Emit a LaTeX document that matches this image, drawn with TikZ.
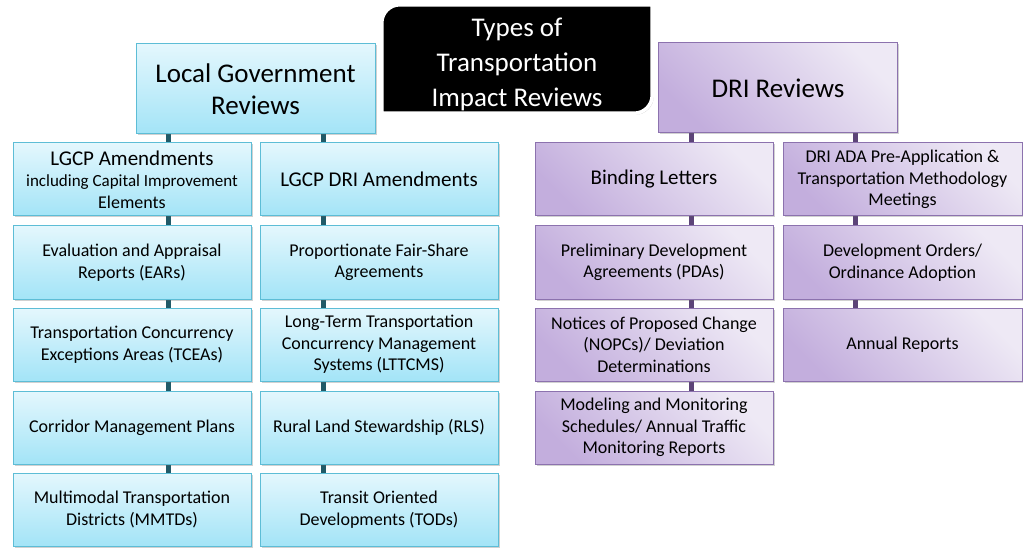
\documentclass[tikz,border=0pt]{standalone}
\usepackage{fontspec}
\setmainfont{Carlito}
\usetikzlibrary{shadows,backgrounds}
\definecolor{lgtop}{HTML}{E4F7FD}
\definecolor{lgbot}{HTML}{A3E4F7}
\definecolor{lgedge}{HTML}{5DBDD6}
\definecolor{lgline}{HTML}{215A68}
\definecolor{drilight}{HTML}{EEE9F5}
\definecolor{dridark}{HTML}{C3AEDD}
\definecolor{driedge}{HTML}{8C72AE}
\definecolor{driline}{HTML}{5C4478}
\tikzset{
    box/.style={line width=1pt, minimum width=238pt, minimum height=73pt, inner sep=0pt,
        align=center, font=\fontsize{18}{21.5}\selectfont,
        drop shadow={shadow xshift=1.5pt, shadow yshift=-1.5pt, opacity=0.3, fill=black!60}},
    lgbox/.style={box, draw=lgedge, top color=lgtop, bottom color=lgbot},
    dribox/.style={box, draw=driedge, top color=drilight, bottom color=dridark, shading angle=-45},
    headbox/.style={minimum width=239pt, minimum height=90pt, font=\fontsize{27}{32}\selectfont},
    lgconn/.style={draw=lgline, line width=5pt},
    driconn/.style={draw=driline, line width=5pt}
}
\begin{document}
\begin{tikzpicture}[x=1pt,y=-1pt]
    \useasboundingbox (0,0) rectangle (1023,548);
    \node[text=white, minimum width=270pt, minimum height=108pt, align=center,
          font=\fontsize{27}{35}\selectfont] (title) at (517,64)
          {Types of\\Transportation\\Impact Reviews};
    \node[lgbox, headbox] (lgr) at (255.5,89) {Local Government\\Reviews};
    \node[dribox, headbox] (dri) at (778,88) {DRI Reviews};

    \node[lgbox] (la1) at (132,179.5) {\fontsize{21}{24}\selectfont LGCP Amendments\\
        \fontsize{17}{19.5}\selectfont including Capital Improvement\\Elements};
    \node[lgbox] (la2) at (132,262.5) {Evaluation and Appraisal\\Reports (EARs)};
    \node[lgbox] (la3) at (132,344.5) {Transportation Concurrency\\Exceptions Areas (TCEAs)};
    \node[lgbox] (la4) at (132,427.5) {Corridor Management Plans};
    \node[lgbox] (la5) at (132,509.5) {Multimodal Transportation\\Districts (MMTDs)};

    \node[lgbox] (lb1) at (379,179.5) {\fontsize{21}{24}\selectfont LGCP DRI Amendments};
    \node[lgbox] (lb2) at (379,262.5) {Proportionate Fair-Share\\Agreements};
    \node[lgbox] (lb3) at (379,344.5) {Long-Term Transportation\\Concurrency Management\\Systems (LTTCMS)};
    \node[lgbox] (lb4) at (379,427.5) {Rural Land Stewardship (RLS)};
    \node[lgbox] (lb5) at (379,509.5) {Transit Oriented\\Developments (TODs)};

    \node[dribox] (ra1) at (654,179.5) {\fontsize{21}{24}\selectfont Binding Letters};
    \node[dribox] (ra2) at (654,262.5) {Preliminary Development\\Agreements (PDAs)};
    \node[dribox] (ra3) at (654,344.5) {Notices of Proposed Change\\(NOPCs)/ Deviation\\Determinations};
    \node[dribox] (ra4) at (654,427.5) {Modeling and Monitoring\\Schedules/ Annual Traffic\\Monitoring Reports};

    \node[dribox, minimum width=239pt] (rb1) at (902.5,179.5) {DRI ADA Pre-Application \&\\Transportation Methodology\\Meetings};
    \node[dribox, minimum width=239pt] (rb2) at (902.5,262.5) {Development Orders/\\Ordinance Adoption};
    \node[dribox, minimum width=239pt] (rb3) at (902.5,344.5) {Annual Reports};

    \coordinate (lca) at (168,0);
    \coordinate (lcb) at (323,0);
    \coordinate (rca) at (691,0);
    \coordinate (rcb) at (855,0);
    \begin{scope}[on background layer]
        \path[fill=black, draw=white, line width=3.5pt,
              drop shadow={shadow xshift=1.5pt, shadow yshift=-1.5pt, opacity=0.35, fill=black!50}]
            ([yshift=5pt]title.south west) [rounded corners=18pt] -- ([yshift=5pt]title.north west) [sharp corners]
            -- ([yshift=5pt]title.north east) [rounded corners=18pt] -- ([yshift=5pt]title.south east) [sharp corners]
            -- cycle;
        \draw[lgconn] (lgr.south -| lca) -- (la5.north -| lca);
        \draw[lgconn] (lgr.south -| lcb) -- (lb5.north -| lcb);
        \draw[driconn] (dri.south -| rca) -- (ra4.north -| rca);
        \draw[driconn] (dri.south -| rcb) -- (rb3.north -| rcb);
    \end{scope}
\end{tikzpicture}
\end{document}
